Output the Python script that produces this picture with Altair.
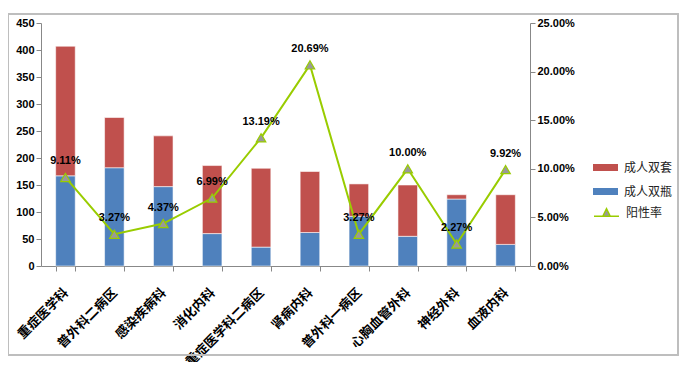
import altair as alt
import pandas as pd

departments = ["重症医学科", "普外科二病区", "感染疾病科", "消化内科", "重症医学科二病区",
               "肾病内科", "普外科一病区", "心胸血管外科", "神经外科", "血液内科"]
double_bottle = [167, 182, 147, 60, 35, 62, 92, 55, 124, 40]   # 成人双瓶
double_set = [240, 93, 94, 126, 146, 113, 60, 95, 8, 92]       # 成人双套
positive_rate = [0.0911, 0.0327, 0.0437, 0.0699, 0.1319, 0.2069, 0.0327, 0.1000, 0.0227, 0.0992]

series_names = ["成人双套", "成人双瓶"]
line_name = "阳性率"

rows = []
for i, d in enumerate(departments):
    rows.append({"dept": d, "series": "成人双瓶", "value": double_bottle[i], "order": 0})
    rows.append({"dept": d, "series": "成人双套", "value": double_set[i], "order": 1})
bars_df = pd.DataFrame(rows)
line_df = pd.DataFrame({"dept": departments, "rate": positive_rate, "name": line_name})

FONT = "Liberation Sans"
CJK = "Noto Sans CJK SC"

x_enc = alt.X("dept:N", sort=departments, title=None,
              scale=alt.Scale(paddingInner=0.6, paddingOuter=0.3),
              axis=alt.Axis(labelAngle=-45, labelFont=CJK, labelFontSize=13,
                            labelFontWeight="bold", labelColor="black",
                            tickBand="extent", domainColor="#888888", tickColor="#888888",
                            tickSize=5, labelPadding=15, labelOffset=-4, labelLimit=300))

bars = alt.Chart(bars_df).mark_bar(stroke="white", strokeWidth=0.8, strokeOpacity=0.7).encode(
    x=x_enc,
    y=alt.Y("value:Q", stack="zero", title=None,
            scale=alt.Scale(domain=[0, 450], nice=False),
            axis=alt.Axis(values=list(range(0, 451, 50)), grid=False, labelFont=FONT,
                          labelFontSize=11, labelFontWeight="bold", labelColor="black",
                          domainColor="#888888", tickColor="#888888", tickSize=5)),
    color=alt.Color("series:N", scale=alt.Scale(domain=series_names, range=["#c0504d", "#4f81bd"]),
                    legend=alt.Legend(title=None, orient="none", legendX=552, legendY=132,
                                      symbolType="M-1,-0.28L1,-0.28L1,0.28L-1,0.28Z",
                                      symbolSize=625, symbolStrokeWidth=0,
                                      labelFont=CJK, labelFontSize=12, labelColor="#222222",
                                      rowPadding=5, labelOffset=6)),
    order=alt.Order("order:Q"),
)

rate_axis = alt.Axis(orient="right", format=".2%", values=[0, 0.05, 0.1, 0.15, 0.2, 0.25],
                     grid=False, labelFont=FONT, labelFontSize=11, labelFontWeight="bold",
                     labelColor="black", domainColor="#888888", tickColor="#888888",
                     tickSize=5)
y_rate = alt.Y("rate:Q", title=None, scale=alt.Scale(domain=[0, 0.25], nice=False), axis=rate_axis)

line = alt.Chart(line_df).mark_line(strokeWidth=2).encode(
    x=alt.X("dept:N", sort=departments), y=y_rate,
    color=alt.Color("name:N", scale=alt.Scale(domain=[line_name], range=["#99cc00"]),
                    legend=alt.Legend(title=None, orient="none", legendX=552, legendY=176,
                                      symbolType="M-1,0.3L-0.3,0.3M0.3,0.3L1,0.3M-0.3,0.3L0,-0.3L0.3,0.3Z",
                                      symbolSize=625, symbolFillColor="#999999",
                                      symbolStrokeWidth=1.5,
                                      labelFont=CJK, labelFontSize=12, labelColor="#222222",
                                      labelOffset=6)),
)

points = alt.Chart(line_df).mark_point(shape="triangle-up", filled=True, fill="#999999",
                                       stroke="#99cc00", strokeWidth=1.2, fillOpacity=1,
                                       size=90).encode(
    x=alt.X("dept:N", sort=departments), y=y_rate)

labels = alt.Chart(line_df).mark_text(font=FONT, fontSize=11, fontWeight="bold", color="black",
                                      baseline="bottom", dy=-11).encode(
    x=alt.X("dept:N", sort=departments), y=y_rate,
    text=alt.Text("rate:Q", format=".2%"),
)

frame = alt.Chart(line_df).mark_rect(fill=None, stroke="#bfbfbf", strokeWidth=1.5).encode(
    x=alt.value(-33), x2=alt.value(637), y=alt.value(-9), y2=alt.value(332))

chart = alt.layer(
    alt.layer(bars, frame),
    alt.layer(line, points, labels),
).resolve_scale(y="independent", color="independent").properties(
    width=489, height=243,
    autosize=alt.AutoSizeParams(type="none"),
    padding={"left": 33, "top": 15, "right": 150, "bottom": 96},
).configure_view(stroke=None).configure_axis(labelOverlap=False)

chart.save("out.html", embed_options={"renderer": "svg", "actions": False})
